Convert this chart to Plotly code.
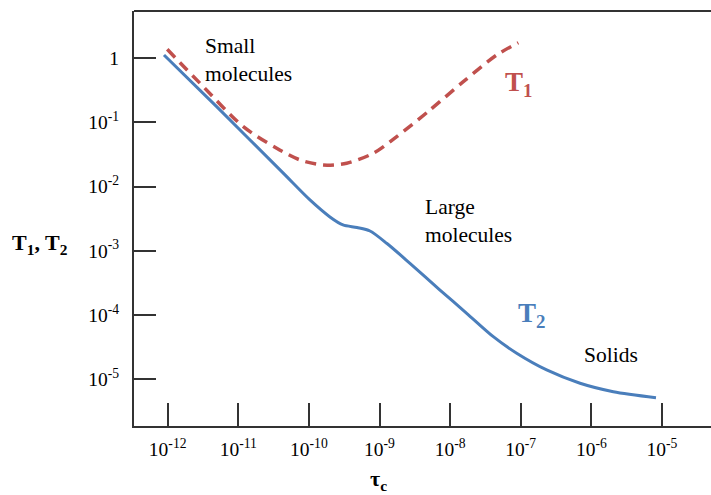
import plotly.graph_objects as go

# ---- data (tau_c in s, relaxation times in s) ----
t2_tau = [8.87e-13, 4.94e-12, 4.30e-11, 1.035e-10, 1.986e-10, 3.04e-10, 4.80e-10,
          7.33e-10, 1.276e-9, 2.70e-9, 7.19e-9, 1.718e-8, 4.09e-8, 8.77e-8,
          2.33e-7, 6.92e-7, 2.05e-6, 8.24e-6]
t2_val = [1.114, 0.1746, 0.01626, 0.00617, 0.00336, 0.00252, 0.00230,
          0.00203, 0.001297, 6.38e-4, 2.45e-4, 1.064e-4, 4.60e-5, 2.54e-5,
          1.396e-5, 8.67e-6, 6.41e-6, 5.18e-6]

t1_tau = [9.86e-13, 2.87e-12, 1.178e-11, 3.50e-11, 7.48e-11, 1.60e-10, 3.43e-10,
          8.17e-10, 1.754e-9, 5.19e-9, 1.538e-8, 4.57e-8, 9.25e-8]
t1_val = [1.365, 0.404, 0.0853, 0.0394, 0.0259, 0.0216, 0.0230,
          0.0329, 0.0596, 0.155, 0.428, 1.114, 1.730]

x_tickvals = [1e-12, 1e-11, 1e-10, 1e-9, 1e-8, 1e-7, 1e-6, 1e-5]
x_ticktext = ["10<sup>-12</sup>", "10<sup>-11</sup>", "10<sup>-10</sup>", "10<sup>-9</sup>",
              "10<sup>-8</sup>", "10<sup>-7</sup>", "10<sup>-6</sup>", "10<sup>-5</sup>"]
y_tickvals = [1, 1e-1, 1e-2, 1e-3, 1e-4, 1e-5]
y_ticktext = ["1", "10<sup>-1</sup>", "10<sup>-2</sup>", "10<sup>-3</sup>",
              "10<sup>-4</sup>", "10<sup>-5</sup>"]

W, H = 711, 495
ML, MR, MT, MB = 134, 0, 11, 69
SERIF = "Liberation Serif"
BLUE = "#4a7ebb"
RED = "#c0504d"
AX = "#333333"


def px(x, y):
    """pixel -> paper coords"""
    return ((x - ML) / (W - ML - MR), 1 - (y - MT) / (H - MT - MB))


fig = go.Figure()
fig.add_trace(go.Scatter(x=t2_tau, y=t2_val, mode="lines",
                         line=dict(color=BLUE, width=3, shape="spline", smoothing=0.8),
                         showlegend=False, hoverinfo="skip"))
fig.add_trace(go.Scatter(x=t1_tau, y=t1_val, mode="lines",
                         line=dict(color=RED, width=3.5, dash="11px,7px",
                                   shape="spline", smoothing=0.8),
                         showlegend=False, hoverinfo="skip"))

annots = []


def add_text(text, xp, yp, size, color="black", bold=False, xanchor="left",
             yanchor="middle", align="left"):
    xx, yy = px(xp, yp)
    if bold:
        text = "<b>" + text + "</b>"
    annots.append(dict(text=text, x=xx, y=yy, xref="paper", yref="paper",
                       xanchor=xanchor, yanchor=yanchor, align=align,
                       showarrow=False,
                       font=dict(family=SERIF, size=size, color=color)))


add_text("Small<br>molecules", 203, 60, 21.5)
add_text("Large<br>molecules", 423, 221, 21.5)
add_text("Solids", 611, 355, 21.5, xanchor="center")
add_text("T<sub>1</sub>", 518, 84, 27, color=RED, bold=True, xanchor="center")
add_text("T<sub>2</sub>", 531, 315, 27, color=BLUE, bold=True, xanchor="center")
add_text("T<sub>1</sub>, T<sub>2</sub>", 40, 244, 22, bold=True, xanchor="center")
add_text("τ<sub>c</sub>", 378, 480, 22, bold=True, xanchor="center")

fig.update_layout(
    width=W, height=H,
    margin=dict(l=ML, r=MR, t=MT, b=MB, pad=0),
    paper_bgcolor="white", plot_bgcolor="white",
    font=dict(family=SERIF, size=19.5, color="black"),
    annotations=annots,
    shapes=[dict(type="line", xref="paper", yref="paper", x0=0, x1=1, y0=1, y1=1,
                 line=dict(color=AX, width=2))],
)
fig.update_xaxes(type="log", range=[-12.477, -4.305], showgrid=False, zeroline=False,
                 showline=True, linecolor=AX, linewidth=2,
                 ticks="inside", ticklen=23, tickwidth=2, tickcolor=AX,
                 tickvals=x_tickvals, ticktext=x_ticktext,
                 tickfont=dict(family=SERIF, size=19.5, color="black"),
                 ticklabelstandoff=5)
fig.update_yaxes(type="log", range=[-5.727, 0.731], showgrid=False, zeroline=False,
                 showline=True, linecolor=AX, linewidth=2,
                 ticks="inside", ticklen=22, tickwidth=2, tickcolor=AX,
                 tickvals=y_tickvals, ticktext=y_ticktext,
                 tickfont=dict(family=SERIF, size=19.5, color="black"),
                 ticklabelstandoff=9)

fig.write_html("out.html")
